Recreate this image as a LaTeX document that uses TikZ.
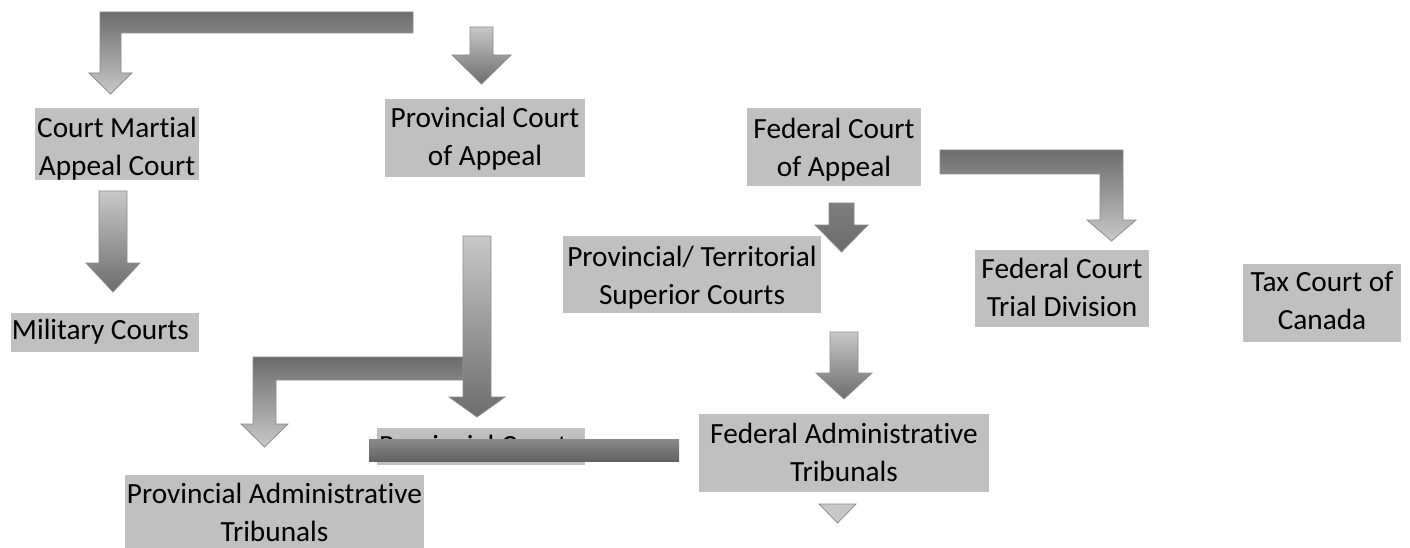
\documentclass[tikz,border=0pt]{standalone}
\usepackage{fontspec}
\setmainfont{Carlito}[Ligatures=NoCommon]
\definecolor{boxgray}{RGB}{192,192,192}
\definecolor{edgegray}{RGB}{140,140,140}
\definecolor{shadelight}{RGB}{200,200,200}
\definecolor{shadedark}{RGB}{108,108,108}
\definecolor{shademid}{RGB}{125,125,125}
\begin{document}
\begin{tikzpicture}[x=1pt,y=-1pt,
  box/.style={fill=boxgray, inner sep=0pt, outer sep=0pt},
  txt/.style={inner sep=0pt, outer sep=0pt, align=center,
    font=\fontsize{29.3}{38}\selectfont},
  txtl/.style={inner sep=0pt, outer sep=0pt, align=left,
    font=\fontsize{29.3}{38}\selectfont},
  blockarrow/.style={draw=edgegray, line width=0.75pt, line join=miter},
  lightdown/.style={blockarrow, top color=shadelight, bottom color=shadedark},
  darkdown/.style={blockarrow, top color=shadedark, bottom color=shadelight},
  solid dark/.style={blockarrow, top color=shademid, bottom color=shadedark},
]
\useasboundingbox[fill=white] (0,0) rectangle (1410,548);

% court boxes
\node[box, minimum width=164pt, minimum height=72pt] (cmac) at (117,144) {};
\node[box, minimum width=200pt, minimum height=78pt] (pca)  at (485,138) {};
\node[box, minimum width=174pt, minimum height=78pt] (fca)  at (834,147) {};
\node[box, minimum width=188pt, minimum height=39pt] (mil)  at (105,332.5) {};
\node[box, minimum width=258pt, minimum height=77pt] (pts)  at (692,274.5) {};
\node[box, minimum width=174pt, minimum height=77pt] (ftd)  at (1062,288.5) {};
\node[box, minimum width=158pt, minimum height=78pt] (tax)  at (1322,303) {};
\node[box, minimum width=290pt, minimum height=78pt] (fat)  at (844,453) {};
\node[box, minimum width=208pt, minimum height=37pt] (pc)   at (481,446.5) {};
\node[box, minimum width=299pt, minimum height=77pt] (pat)  at (274.5,513.5) {};

% court names
\node[txt, anchor=north] (cmact) at (cmac.north) {\rule{0pt}{30pt}Court Martial\\Appeal Court};
\node[txt, anchor=north] (pcat)  at (pca.north)  {\rule{0pt}{29pt}Provincial Court\\of Appeal};
\node[txt, anchor=north] (fcat)  at (fca.north)  {\rule{0pt}{31pt}Federal Court\\of Appeal};
\node[txtl, anchor=north west, xshift=1pt] (milt) at (mil.north west) {\rule{0pt}{26pt}Military Courts};
\node[txt, anchor=north] (ptst)  at (pts.north)  {\rule{0pt}{30pt}Provincial/ Territorial\\Superior Courts};
\node[txt, anchor=north] (ftdt)  at (ftd.north)  {\rule{0pt}{28pt}Federal Court\\Trial Division};
\node[txt, anchor=north] (taxt)  at (tax.north)  {\rule{0pt}{27pt}Tax Court of\\Canada};
\node[txt, anchor=north] (fatt)  at (fat.north)  {\rule{0pt}{29pt}Federal Administrative\\Tribunals};
\node[txtl, anchor=north west, xshift=2pt] (pct) at (pc.north west) {\rule{0pt}{27pt}Provincial Court};
\node[txt, anchor=north] (patt)  at (pat.north)  {\rule{0pt}{28pt}Provincial Administrative\\Tribunals};

% bent arrow down to the Court Martial Appeal Court
\shadedraw[darkdown] (413,12) -- (100,12) -- (100,73) -- (89,73) -- (110.5,94)
  -- (132,73) -- (121,73) -- (121,33) -- (413,33) -- cycle;
% arrow down to the Provincial Court of Appeal
\shadedraw[lightdown] (470,27) -- (493,27) -- (493,55) -- (511,55) -- (481.5,84)
  -- (452,55) -- (470,55) -- cycle;
% Court Martial Appeal Court to Military Courts
\shadedraw[lightdown] (99,191) -- (127,191) -- (127,263) -- (140,263) -- (113,292)
  -- (86,263) -- (99,263) -- cycle;
% bent arrow from the Federal Court of Appeal to the Trial Division
\shadedraw[darkdown] (940,150) -- (1123,150) -- (1123,220) -- (1136,220) -- (1111.5,241)
  -- (1087,220) -- (1100,220) -- (1100,174) -- (940,174) -- cycle;
% Federal Court of Appeal to the superior courts
\shadedraw[solid dark] (829,203) -- (854,203) -- (854,225) -- (868,225) -- (841.5,252)
  -- (815,225) -- (829,225) -- cycle;
% superior courts to the federal tribunals
\shadedraw[lightdown] (830,332) -- (858,332) -- (858,373) -- (872,373) -- (844,399)
  -- (816,373) -- (830,373) -- cycle;
% bent arrow to the provincial tribunals
\shadedraw[darkdown] (463,357) -- (253,357) -- (253,424) -- (241,424) -- (264.5,447)
  -- (288,424) -- (276,424) -- (276,380) -- (463,380) -- cycle;
% long arrow down to the Provincial Court
\shadedraw[lightdown] (463,236) -- (491,236) -- (491,397) -- (505,397) -- (477,417)
  -- (449,397) -- (463,397) -- cycle;
% bar across the Provincial Court
\shade[top color=shademid!90!white, bottom color=shadedark!90!black]
  (369,439) rectangle (679,461);
% small pointer below the federal tribunals
\filldraw[fill=shadelight, draw=edgegray, line width=0.75pt] (819,504) -- (856,504) -- (837.5,523) -- cycle;
\end{tikzpicture}
\end{document}
